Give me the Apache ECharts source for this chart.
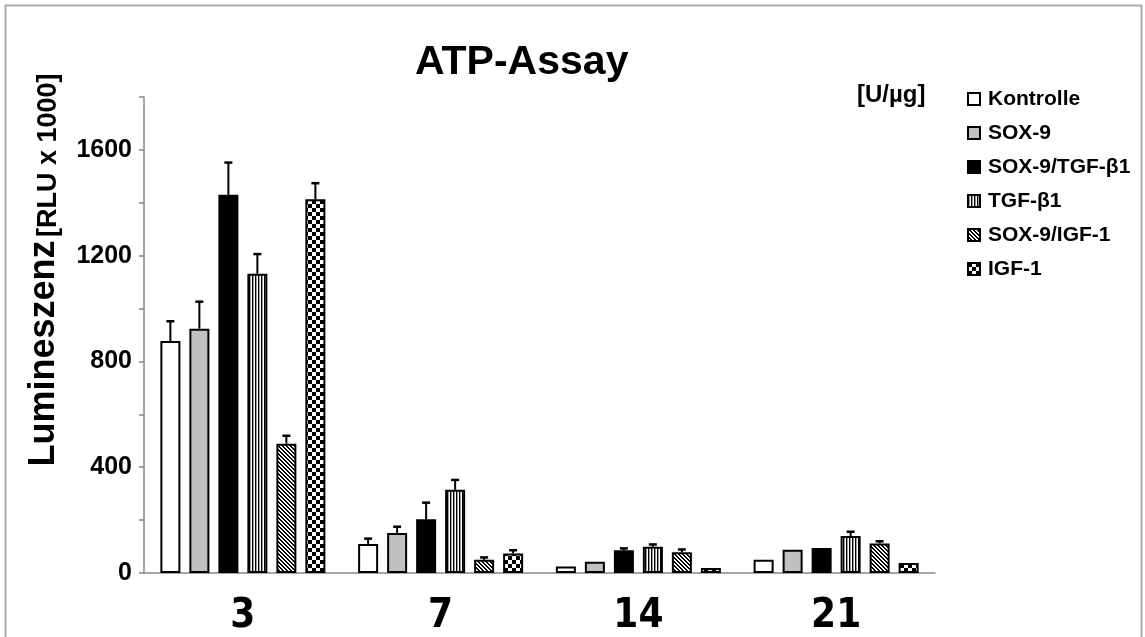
<!DOCTYPE html>
<html>
<head>
<meta charset="utf-8">
<title>ATP-Assay</title>
<script src="https://cdn.jsdelivr.net/npm/echarts@6/dist/echarts.min.js"></script>
<style>
  html, body { margin: 0; padding: 0; background: #fff; }
  #main { width: 1145px; height: 637px; }
</style>
</head>
<body>
<div id="main"></div>
<script>
var days = ['3', '7', '14', '21'];
var groupNames = ['Kontrolle', 'SOX-9', 'SOX-9/TGF-\u03b21', 'TGF-\u03b21', 'SOX-9/IGF-1', 'IGF-1'];

// mean values (RLU x 1000) per day
var kontrolle = [877, 110, 25, 50];
var sox9 = [924, 151, 43, 88];
var sox9Tgf = [1430, 203, 86, 95];
var tgf = [1132, 315, 99, 140];
var sox9Igf = [489, 50, 78, 112];
var igf = [1413, 74, 19, 38];

// standard deviation (upper error bar)
var kontrolleErr = [75, 20, 0, 3];
var sox9Err = [102, 24, 0, 2];
var sox9TgfErr = [122, 63, 7, 2];
var tgfErr = [74, 37, 9, 16];
var sox9IgfErr = [30, 9, 11, 8];
var igfErr = [61, 12, 0, 3];

var yTicks = [0, 400, 800, 1200, 1600];

var values = [kontrolle, sox9, sox9Tgf, tgf, sox9Igf, igf];
var errors = [kontrolleErr, sox9Err, sox9TgfErr, tgfErr, sox9IgfErr, igfErr];

// ---- fill patterns ----
function makeCanvas(w, h, draw) {
    var c = document.createElement('canvas');
    c.width = w;
    c.height = h;
    var ctx = c.getContext('2d');
    ctx.fillStyle = '#fff';
    ctx.fillRect(0, 0, w, h);
    ctx.fillStyle = '#000';
    draw(ctx);
    return { image: c, repeat: 'repeat' };
}
var vStripes = makeCanvas(3, 3, function (ctx) {
    ctx.fillRect(0, 0, 1, 3);
    ctx.fillStyle = '#999';
    ctx.fillRect(1, 0, 1, 3);
});
var dStripes = makeCanvas(4, 4, function (ctx) {
    for (var i = 0; i < 4; i++) {
        ctx.fillRect(i, i, 1, 1);
        ctx.fillRect((i + 1) % 4, i, 1, 1);
    }
});
var checker = makeCanvas(8, 8, function (ctx) {
    ctx.fillRect(0, 0, 4, 4);
    ctx.fillRect(4, 4, 4, 4);
});

var fills = ['#ffffff', '#c0c0c0', '#000000', vStripes, dStripes, checker];

var barWidth = 20;
var barGapPx = 9;

var dom = document.getElementById('main');
var myChart = echarts.init(dom);

var series = [];
groupNames.forEach(function (name, i) {
    series.push({
        name: name,
        type: 'bar',
        barWidth: barWidth,
        barGap: (barGapPx / barWidth * 100) + '%',
        data: values[i],
        itemStyle: {
            color: fills[i],
            borderColor: '#000',
            borderWidth: 2
        },
        emphasis: { disabled: true }
    });
});

// error bars drawn with a custom series, one per group
groupNames.forEach(function (name, i) {
    var offset = (i - (groupNames.length - 1) / 2) * (barWidth + barGapPx);
    series.push({
        name: name + ' SD',
        type: 'custom',
        z: 5,
        data: values[i].map(function (v, k) {
            return [k, v, v + errors[i][k]];
        }),
        renderItem: function (params, api) {
            var base = api.coord([api.value(0), api.value(1)]);
            var top = api.coord([api.value(0), api.value(2)]);
            var x = base[0] + offset;
            if (base[1] - top[1] < 1) {
                return null;
            }
            return {
                type: 'group',
                children: [{
                    type: 'line',
                    shape: { x1: x, y1: base[1], x2: x, y2: top[1] },
                    style: { stroke: '#000', lineWidth: 2 }
                }, {
                    type: 'line',
                    shape: { x1: x - 4, y1: top[1], x2: x + 4, y2: top[1] },
                    style: { stroke: '#000', lineWidth: 2.5 }
                }]
            };
        }
    });
});

var option = {
    animation: false,
    textStyle: { fontFamily: 'Liberation Sans, Arial, sans-serif' },
    title: {
        text: 'ATP-Assay',
        left: 410,
        top: 37,
        textStyle: {
            fontSize: 41,
            fontWeight: 'bold',
            color: '#000',
            fontFamily: 'Liberation Sans, Arial, sans-serif'
        }
    },
    legend: {
        orient: 'vertical',
        left: 962,
        top: 83,
        icon: 'rect',
        itemWidth: 12,
        itemHeight: 12,
        itemGap: 12,
        data: groupNames,
        selectedMode: false,
        textStyle: {
            fontSize: 21,
            fontWeight: 'bold',
            color: '#000',
            lineHeight: 22,
            padding: [0, 0, 0, 3]
        }
    },
    grid: {
        left: 144,
        right: 210,
        top: 97,
        bottom: 64
    },
    xAxis: {
        type: 'category',
        data: days,
        axisLine: { lineStyle: { color: '#888', width: 1.5 } },
        axisTick: { length: 5, lineStyle: { color: '#888', width: 1.5 } },
        axisLabel: {
            margin: 24,
            fontSize: 40,
            fontWeight: 'bold',
            color: '#000',
            fontFamily: 'Liberation Sans Narrow, DejaVu Sans Condensed, Liberation Sans, Arial, sans-serif'
        }
    },
    yAxis: {
        type: 'value',
        min: 0,
        max: 1800,
        interval: 200,
        axisLine: { show: true, lineStyle: { color: '#888', width: 1.5 } },
        axisTick: { show: true, length: 5, lineStyle: { color: '#888', width: 1.5 } },
        splitLine: { show: false },
        axisLabel: {
            margin: 12,
            fontSize: 25,
            fontWeight: 'bold',
            color: '#000',
            formatter: function (v) {
                return yTicks.indexOf(v) >= 0 ? String(v) : '';
            }
        }
    },
    graphic: [{
        type: 'rect',
        silent: true,
        shape: { x: 5.5, y: 5.5, width: 1136, height: 660 },
        style: { fill: 'none', stroke: '#aaa', lineWidth: 2 }
    }, {
        type: 'text',
        x: 857,
        y: 95,
        style: {
            text: '[U/\u00b5g]',
            font: 'bold 24px Liberation Sans, Arial, sans-serif',
            fill: '#000',
            verticalAlign: 'middle'
        }
    }, {
        type: 'text',
        x: 44,
        y: 270,
        rotation: Math.PI / 2,
        style: {
            text: '{a|Lumineszenz} {b|[RLU x 1000]}',
            align: 'center',
            verticalAlign: 'middle',
            fill: '#000',
            rich: {
                a: { fontSize: 36, fontWeight: 'bold', fontFamily: 'Liberation Sans, Arial, sans-serif' },
                b: { fontSize: 27, fontWeight: 'bold', verticalAlign: 'bottom', fontFamily: 'Liberation Sans, Arial, sans-serif' }
            }
        }
    }],
    series: series
};

if (option && typeof option === "object") {
    myChart.setOption(option, true);
}
</script>
</body>
</html>
